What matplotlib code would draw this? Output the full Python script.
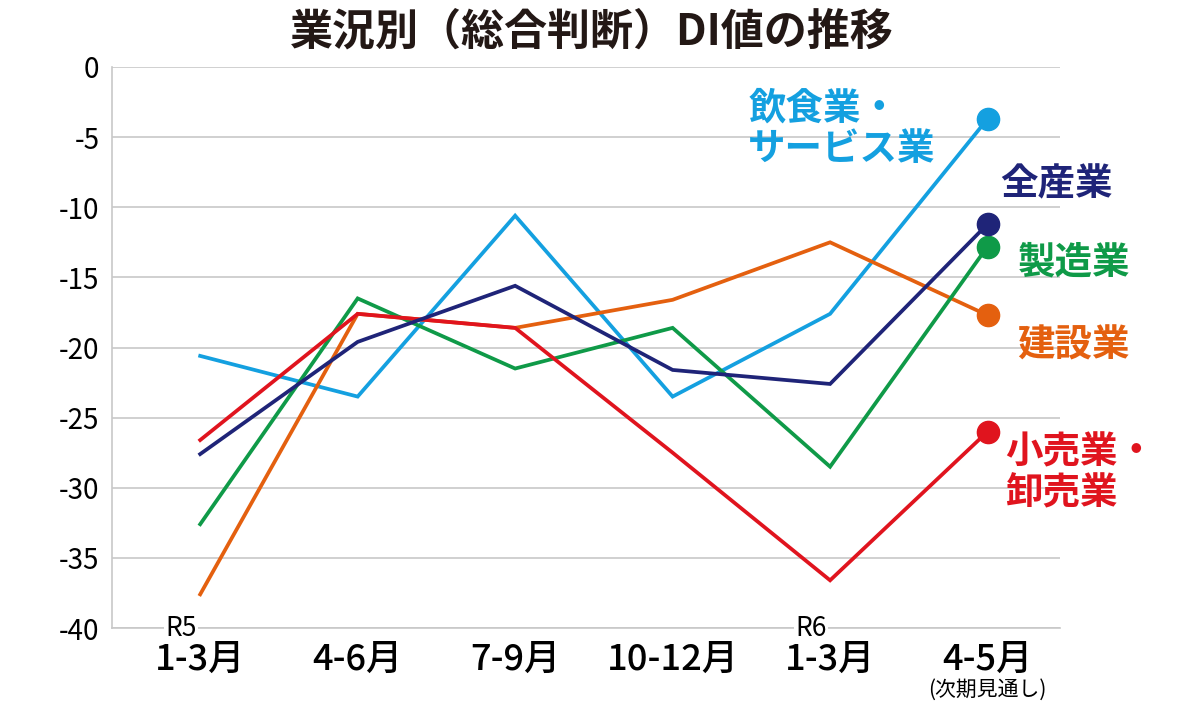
import matplotlib
matplotlib.use("Agg")
import matplotlib.pyplot as plt

plt.rcParams['font.family'] = ['Noto Sans CJK JP', 'DejaVu Sans']

periods = ["1-3月", "4-6月", "7-9月", "10-12月", "1-3月", "4-5月"]
year_marks = {0: "R5", 4: "R6"}
yticks = [0, -5, -10, -15, -20, -25, -30, -35, -40]

all_ind = [-27.6, -19.6, -15.6, -21.6, -22.6, -11.2]
manufacturing = [-32.6, -16.5, -21.5, -18.6, -28.5, -12.8]
construction = [-37.6, -17.6, -18.6, -16.6, -12.5, -17.7]
retail = [-26.6, -17.6, -18.6, -27.5, -36.6, -26.0]
food_service = [-20.6, -23.5, -10.6, -23.5, -17.6, -3.7]

series = [
    ("飲食業・\nサービス業", food_service, "#14a0e0"),
    ("建設業", construction, "#e4600f"),
    ("製造業", manufacturing, "#0f9a48"),
    ("小売業・\n卸売業", retail, "#e0141e"),
    ("全産業", all_ind, "#1f2478"),
]

fig = plt.figure(figsize=(12, 7.08), dpi=100)
ax = fig.add_axes([112/1200, 1-628/708, (1060-112)/1200, (628-67)/708])

x = list(range(len(periods)))
for name, vals, col in series:
    ax.plot(x, vals, color=col, lw=2.7, solid_joinstyle='miter', zorder=3)
    ax.plot([x[-1]], [vals[-1]], 'o', color=col, ms=16, zorder=4)

ax.set_xlim(-0.56, 5.46)
ax.set_ylim(-40, 0)
ax.set_yticks(yticks)
ax.set_yticklabels([str(v) for v in yticks], fontsize=20)
ax.grid(axis='y', color='#c8c8c8', lw=1.2, zorder=0)
ax.tick_params(axis='both', length=0, pad=9)
ax.set_xticks(x)
ax.set_xticklabels([])
for s in ['top', 'right']:
    ax.spines[s].set_visible(False)
for s in ['left', 'bottom']:
    ax.spines[s].set_color('#c8c8c8')
    ax.spines[s].set_linewidth(1.2)

for i, lab in enumerate(periods):
    ax.text(i, -42.3, lab, ha='center', va='center', fontsize=26,
            fontweight='medium', clip_on=False)
for i, lab in year_marks.items():
    ax.text(i - 0.12, -40.0, lab, ha='center', va='center', fontsize=19,
            clip_on=False, zorder=5,
            bbox=dict(facecolor='white', edgecolor='none', pad=1))
ax.text(5, -44.4, "(次期見通し)", ha='center', va='center', fontsize=15,
        clip_on=False)

# end labels
label_pos = {
    "飲食業・\nサービス業": (3.48, -4.4, 'left'),
    "全産業": (5.08, -8.3, 'left'),
    "製造業": (5.19, -13.9, 'left'),
    "建設業": (5.19, -19.8, 'left'),
    "小売業・\n卸売業": (5.11, -28.9, 'left'),
}
for name, vals, col in series:
    lx, ly, ha = label_pos[name]
    ax.text(lx, ly, name, color=col, fontsize=27, fontweight='bold',
            ha=ha, va='center', linespacing=1.05, clip_on=False, zorder=6)

fig.text(592/1200, 1-32/708, "業況別（総合判断）DI値の推移", ha='center',
         va='center', fontsize=31, fontweight='bold', color='#231815')

fig.savefig("out.png", dpi=100, facecolor='white')
